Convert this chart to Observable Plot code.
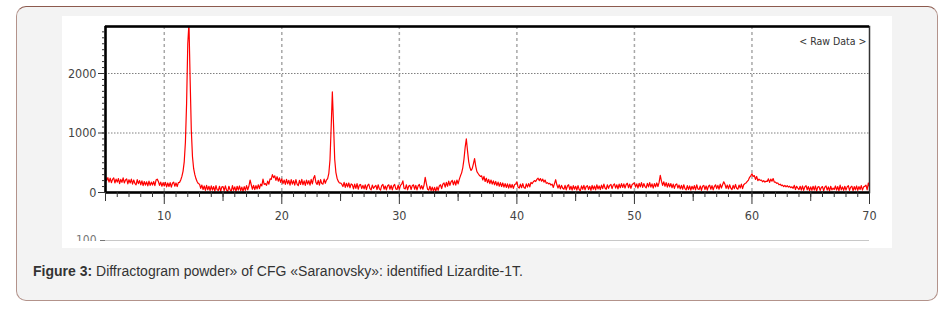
<!DOCTYPE html>
<html><head><meta charset="utf-8">
<script src="https://cdn.jsdelivr.net/npm/d3@7"></script>
<script src="https://cdn.jsdelivr.net/npm/@observablehq/plot@0.6"></script>
<style>
html,body{margin:0;padding:0;background:#fff;width:944px;height:311px;overflow:hidden;}
#card{position:absolute;left:16px;top:6px;width:920px;height:293px;background:#f3f3f3;border:1px solid #b3938b;border-top-color:#8c5a4e;border-radius:10px;}
#img{position:absolute;left:62px;top:16px;width:830px;height:232px;background:#fff;overflow:hidden}
#main{position:absolute;left:0;top:0}
#sub{position:absolute;left:0;top:212px;width:830px;height:13px;overflow:hidden}
#cap{position:absolute;left:33px;top:263px;font:14px "Liberation Sans",Arial,sans-serif;color:#333;line-height:17px;white-space:nowrap}
</style></head>
<body>
<div id="card"></div>
<div id="img"><div id="main"></div><div id="sub"></div></div>
<div id="cap"></div>
<script>
// 2θ sampling grid (degrees)
const startDeg = 5, stepDeg = 0.1;
// intensity (counts), one row per degree: d.0 ... d.9
const intensity = [
 270,200,250,175,240,165,220,245,160,225,
 175,235,150,220,170,245,160,210,230,145,
 215,160,225,140,210,155,130,215,150,200,
 130,195,115,185,125,180,110,190,120,175,
 125,185,115,210,225,185,120,175,105,165,
 110,170,95,160,100,165,90,155,175,105,
 160,100,165,170,210,270,360,520,850,1500,
 2500,2850,1900,1050,600,400,300,230,180,150,
 140,70,125,50,110,35,120,45,105,30,
 110,40,100,25,115,45,35,105,20,95,
 100,30,110,40,20,105,45,25,115,35,
 95,20,105,40,110,30,90,20,100,35,
 115,45,105,210,130,55,120,50,115,60,
 130,65,140,110,225,135,150,120,190,140,
 230,220,300,250,280,205,265,190,245,170,
 230,150,210,135,220,145,205,125,215,140,
 200,125,215,140,115,205,135,220,130,195,
 120,210,140,200,125,220,145,240,285,170,
 135,205,125,215,150,140,225,155,210,235,
 320,550,1100,1690,1150,560,340,240,190,160,
 160,140,100,170,85,155,95,160,80,145,
 130,60,140,70,150,55,125,135,65,120,
 60,130,50,120,140,65,45,125,70,100,
 120,50,130,60,40,115,135,55,110,45,
 115,130,55,120,45,110,135,60,50,125,
 55,120,140,195,70,60,130,45,110,120,
 50,115,130,55,120,45,110,135,60,115,
 55,125,255,150,55,40,105,30,90,25,
 85,20,95,35,110,130,65,140,160,90,
 170,105,190,120,180,205,130,195,125,210,
 145,220,280,330,420,560,760,900,700,520,
 420,370,400,480,570,440,350,320,290,270,
 280,210,270,185,240,165,220,150,210,140,
 195,130,185,115,175,105,165,100,160,90,
 150,85,145,75,140,80,135,70,130,145,
 180,90,75,140,80,150,85,70,145,90,
 150,95,170,150,180,200,185,220,240,200,
 235,190,225,175,210,155,165,145,155,125,
 140,85,150,215,130,75,130,60,120,70,
 55,120,45,110,130,50,105,40,115,55,
 105,40,115,50,30,110,55,120,45,100,
 115,50,105,35,120,55,110,45,130,60,
 110,50,125,65,140,75,55,130,70,120,
 135,65,125,145,75,130,60,140,80,150,
 85,145,75,135,155,80,140,70,130,150,
 160,90,145,75,155,95,165,85,150,100,
 80,155,95,165,90,145,75,150,95,160,
 100,170,290,190,120,180,105,165,90,155,
 95,150,80,140,70,130,145,75,125,60,
 120,55,130,65,45,115,50,110,40,105,
 55,115,45,130,60,50,110,35,105,120,
 50,110,40,105,125,55,115,45,100,130,
 65,120,55,140,75,130,180,140,70,125,
 60,130,75,50,120,65,135,70,55,125,
 75,140,65,130,150,160,185,210,255,280,
 315,270,285,220,270,200,225,205,210,180,
 200,175,190,185,230,170,225,190,235,175,
 175,155,160,130,140,115,125,100,120,95,
 115,90,105,80,95,70,120,50,105,75,
 50,105,40,110,35,95,115,45,100,30,
 95,35,105,40,110,25,90,100,35,85,
 100,30,90,110,40,95,25,105,45,75,
 50,110,40,100,30,125,45,95,35,105,
 40,95,115,35,90,105,30,100,45,110,
 35,100,50,115,40,95,105,125,45,160,
 95
];
const xDomain = [5, 70];
const yDomain = [0, 2790];
const xMajor = [10, 20, 30, 40, 50, 60, 70];
const xMedium = [5, 15, 25, 35, 45, 55, 65];
const xMinor = d3.range(5, 71, 1);
const yMajor = [0, 1000, 2000];
const yMinor = d3.range(0, 2800, 100);
const gridX = [10, 20, 30, 40, 50, 60];
const gridY = [1000, 2000];
const legendText = "< Raw Data >";
const subTicks = [100];
const captionBold = "Figure 3:";
const captionText = " Diffractogram powder» of CFG «Saranovsky»: identified Lizardite-1T.";

const data = intensity.map((v, i) => ({x: +(startDeg + i * stepDeg).toFixed(1), y: v}));
const fontFam = '"DejaVu Sans Condensed","Liberation Sans",sans-serif';
const blank = () => "";

const chart = Plot.plot({
  width: 830, height: 232, marginLeft: 43, marginRight: 23, marginTop: 10, marginBottom: 56,
  style: {fontFamily: fontFam, fontSize: "12.5px", color: "#444", background: "transparent", overflow: "visible"},
  x: {domain: xDomain, axis: null},
  y: {domain: yDomain, axis: null},
  marks: [
    Plot.ruleX(gridX, {stroke: "#a8a8a8", strokeWidth: 1.5, strokeDasharray: "3,3"}),
    Plot.ruleY(gridY, {stroke: "#808080", strokeWidth: 1, strokeDasharray: "1.5,1.5"}),
    Plot.line(data, {x: "x", y: "y", stroke: "#ff0000", strokeWidth: 1.2, clip: true}),
    Plot.frame({stroke: "#333", strokeWidth: 1.5}),
    Plot.ruleX([xDomain[0]], {stroke: "#000", strokeWidth: 2.5}),
    Plot.ruleY([yDomain[0]], {stroke: "#000", strokeWidth: 2.5}),
    Plot.ruleY([yDomain[1]], {stroke: "#000", strokeWidth: 2.5}),
    Plot.axisX({ticks: xMinor, tickSize: 5, tickFormat: blank, stroke: "#333", label: null}),
    Plot.axisX({ticks: xMedium, tickSize: 9, tickFormat: blank, stroke: "#333", label: null}),
    Plot.axisX({ticks: xMajor, tickSize: 12, tickPadding: 7, tickFormat: d => String(d), stroke: "#333", label: null}),
    Plot.axisY({ticks: yMinor, tickSize: 3, tickFormat: blank, stroke: "#333", label: null}),
    Plot.axisY({ticks: yMajor, tickSize: 7, tickPadding: 2, tickFormat: d => String(d), stroke: "#333", label: null}),
    Plot.text([legendText], {frameAnchor: "top-right", text: d => d, dx: -3, dy: 15, lineAnchor: "middle", fontSize: 10.5, fill: "#333"})
  ]
});
document.getElementById("main").appendChild(chart);

const sub = Plot.plot({
  width: 830, height: 60, marginLeft: 43, marginRight: 23, marginTop: 12, marginBottom: 10,
  style: {fontFamily: fontFam, fontSize: "12px", color: "#777", background: "transparent"},
  x: {domain: xDomain, axis: null},
  y: {domain: [0, 100], axis: null},
  marks: [
    Plot.ruleY(subTicks, {stroke: "#c8c8c8"}),
    Plot.axisY({ticks: subTicks, tickSize: 5, tickPadding: 4, tickFormat: d => String(d), label: null})
  ]
});
document.getElementById("sub").appendChild(sub);

const cap = document.getElementById("cap");
const b = document.createElement("b");
b.textContent = captionBold;
cap.appendChild(b);
cap.appendChild(document.createTextNode(captionText));
</script>
</body></html>
